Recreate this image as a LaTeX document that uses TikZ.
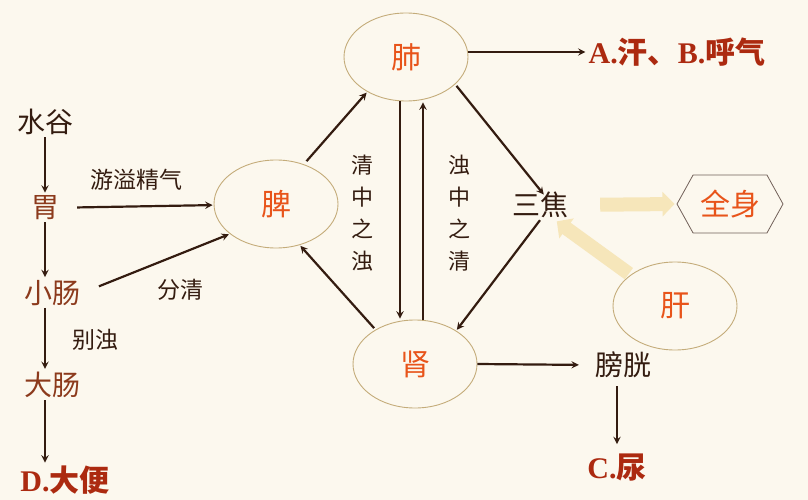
\documentclass[tikz,border=0pt]{standalone}
\usepackage{fontspec}
\setmainfont{Liberation Serif}
\newfontfamily\cjk{Noto Sans CJK SC}
\usetikzlibrary{arrows.meta,shapes.geometric,shapes.symbols}

\definecolor{paper}{RGB}{252,248,238}
\definecolor{organred}{RGB}{232,84,26}
\definecolor{ink}{RGB}{52,28,16}
\definecolor{ruddy}{RGB}{140,58,28}
\definecolor{outred}{RGB}{172,42,16}
\definecolor{rim}{RGB}{196,172,122}
\definecolor{glow}{RGB}{246,230,186}

\begin{document}
\begin{tikzpicture}[
            x = 1pt, y = -1pt, % pixel grid of the slide
            > = stealth, % arrow head style
            shorten > = 1pt,
            flow/.style = {->, line width=2.2pt, draw=ink},
            faded/.style = {-{Triangle[width=24pt,length=12pt]}, line width=14pt, draw=glow, shorten > = 2pt},
            zang/.style = {shape=ellipse, draw=rim, line width=0.9pt, minimum width=124pt, minimum height=88pt, text=organred, font=\cjk\fontsize{30}{30}\selectfont},
            word/.style = {text=ink, inner sep=2pt, font=\cjk\fontsize{28}{28}\selectfont},
            note/.style = {text=ink, inner sep=2pt, font=\cjk\fontsize{23}{23}\selectfont},
            upright/.style = {text=ink, align=center, font=\cjk\fontsize{22}{32}\selectfont},
            outcome/.style = {text=outred, inner sep=2pt, font=\fontsize{30}{30}\selectfont\bfseries},
            hexa/.style = {shape=signal, signal to=west and east, signal pointer angle=122, draw=ink!70, line width=0.8pt, minimum width=106pt, minimum height=58pt, inner sep=0pt, text=organred, font=\cjk\fontsize{30}{30}\selectfont}
        ]

        \fill[paper] (0,0) rectangle (808,500);
        \useasboundingbox (0,0) rectangle (808,500);

        % left column: the food path
        \node[word]             (shuigu)    at (45,122)  {水谷};
        \node[word,text=ruddy]  (wei)       at (45,208)  {胃};
        \node[word,text=ruddy]  (xiaochang) at (52,293)  {小肠};
        \node[word,text=ruddy]  (dachang)   at (52,385)  {大肠};
        \node[outcome]          (dabian)    at (65,480)  {D.{\cjk 大便}};

        % organs
        \node[zang] (pi)   at (276,204) {脾};
        \node[zang] (fei)  at (406,57)  {肺};
        \node[zang] (shen) at (415,364) {肾};
        \node[zang] (gan)  at (675,306) {肝};

        \node[word]    (sanjiao)   at (540,205) {三焦};
        \node[word]    (pangguang) at (623,365) {膀胱};
        \node[hexa]    (quanshen)  at (730,204) {全身};
        \node[outcome] (hanqi)     at (677,52)  {A.{\cjk 汗、}B.{\cjk 呼气}};
        \node[outcome] (niao)      at (617,468) {C.{\cjk 尿}};

        % labels on the connectors
        \node[note]    (youyi)    at (136,180) {游溢精气};
        \node[note]    (fenqing)  at (180,290) {分清};
        \node[note]    (biezhuo)  at (95,340)  {别浊};
        \node[upright] (qingzhuo) at (362,213) {清\\中\\之\\浊};
        \node[upright] (zhuoqing) at (459,213) {浊\\中\\之\\清};

        \coordinate (down) at (400,0);
        \coordinate (up)   at (423,0);

        \draw[faded, shorten <=30pt] (sanjiao.east) -- (quanshen.west);
        \draw[faded, shorten <=2pt] (gan.145) -- (sanjiao.-45);

        \draw[flow] (shuigu) -- (wei);
        \draw[flow] (wei) -- (xiaochang.north -| wei);
        \draw[flow] (xiaochang.south -| wei) -- (dachang.north -| wei);
        \draw[flow] (dachang.south -| wei) -- (dabian.north -| wei);
        \draw[flow, shorten <=16pt] (wei) -- (pi);
        \draw[flow, shorten <=18pt] (xiaochang.east) -- (pi.213);
        \draw[flow, shorten <=4pt]  (pi.55) -- (fei.222);
        \draw[flow] (fei.east |- hanqi) -- (hanqi);
        \draw[flow, shorten <=2pt, shorten >=-6pt] (fei.-29) -- (sanjiao.north);
        \draw[flow] (fei.south -| down) -- (shen.north -| down);
        \draw[flow] (shen.north -| up) -- (fei.south -| up);
        \draw[flow] (sanjiao.south) -- (shen.39);
        \draw[flow, shorten <=2pt] (shen.139) -- (pi.-60);
        \draw[flow, shorten >=14pt] (shen.east) -- (pangguang.west);
        \draw[flow, shorten <=6pt, shorten >=8pt] (pangguang.south -| niao.north) -- (niao.north);
    \end{tikzpicture}
\end{document}
